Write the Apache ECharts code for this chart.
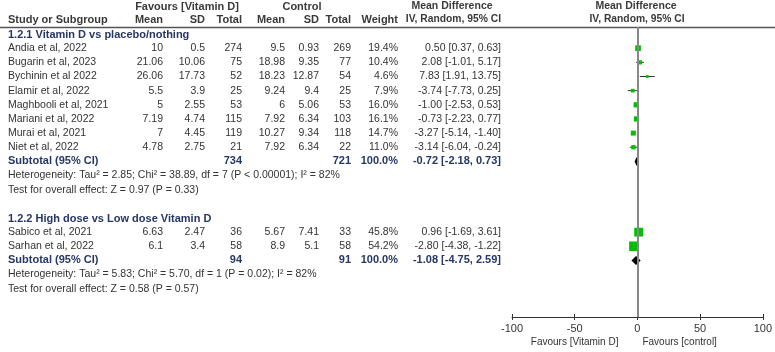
<!DOCTYPE html>
<html>
<head>
<meta charset="utf-8">
<script src="https://cdn.jsdelivr.net/npm/echarts@6/dist/echarts.min.js"></script>
<style>
  html, body { margin: 0; padding: 0; background: #fff; }
  #chart { width: 775px; height: 352px; }
</style>
</head>
<body>
<div id="chart"></div>
<script>
const studies = ['Andia et al, 2022', 'Bugarin et al, 2023', 'Bychinin et al 2022', 'Elamir et al, 2022',
  'Maghbooli et al, 2021', 'Mariani et al, 2022', 'Murai et al, 2021', 'Niet et al, 2022',
  'Sabico et al, 2021', 'Sarhan et al, 2022'];
const studyGroup = [0, 0, 0, 0, 0, 0, 0, 0, 1, 1];
const vdMean = [10, 21.06, 26.06, 5.5, 5, 7.19, 7, 4.78, 6.63, 6.1];
const vdSD = [0.5, 10.06, 17.73, 3.9, 2.55, 4.74, 4.45, 2.75, 2.47, 3.4];
const vdTotal = [274, 75, 52, 25, 53, 115, 119, 21, 36, 58];
const ctMean = [9.5, 18.98, 18.23, 9.24, 6, 7.92, 10.27, 7.92, 5.67, 8.9];
const ctSD = [0.93, 9.35, 12.87, 9.4, 5.06, 6.34, 9.34, 6.34, 7.41, 5.1];
const ctTotal = [269, 77, 54, 25, 53, 103, 118, 22, 33, 58];
const weight = [19.4, 10.4, 4.6, 7.9, 16.0, 16.1, 14.7, 11.0, 45.8, 54.2];
const md = [0.50, 2.08, 7.83, -3.74, -1.00, -0.73, -3.27, -3.14, 0.96, -2.80];
const mdLo = [0.37, -1.01, 1.91, -7.73, -2.53, -2.23, -5.14, -6.04, -1.69, -4.38];
const mdHi = [0.63, 5.17, 13.75, 0.25, 0.53, 0.77, -1.40, -0.24, 3.61, -1.22];

const groupTitles = ['1.2.1 Vitamin D vs placebo/nothing', '1.2.2 High dose vs Low dose Vitamin D'];
const subVdTotal = [734, 94];
const subCtTotal = [721, 91];
const subMd = [-0.72, -1.08];
const subLo = [-2.18, -4.75];
const subHi = [0.73, 2.59];
const hetText = ['Heterogeneity: Tau\u00b2 = 2.85; Chi\u00b2 = 38.89, df = 7 (P < 0.00001); I\u00b2 = 82%',
  'Heterogeneity: Tau\u00b2 = 5.83; Chi\u00b2 = 5.70, df = 1 (P = 0.02); I\u00b2 = 82%'];
const testText = ['Test for overall effect: Z = 0.97 (P = 0.33)', 'Test for overall effect: Z = 0.58 (P = 0.57)'];

const xTicks = [-100, -50, 0, 50, 100];

// row numbers for every line of the table
let row = -1;
const studyRow = [], titleRow = [], subRow = [], hetRow = [], testRow = [];
groupTitles.forEach((t, g) => {
  titleRow.push(row++);
  studies.forEach((s, i) => { if (studyGroup[i] === g) studyRow[i] = row++; });
  subRow.push(row++);
  hetRow.push(row++);
  testRow.push(row++);
  row++;
});
const lastRow = 19;

const FONT = 'Liberation Sans, Arial, sans-serif';
const TXT = '#333';
const HEAD = '#3a3a3a';
const NAVY = '#263766';
const cols = { name: 8, vdMean: 163, vdSD: 205, vdTotal: 242, ctMean: 285, ctSD: 319, ctTotal: 351, weight: 398, ci: 501 };

const ci = (m, l, h) => m.toFixed(2) + ' [' + l.toFixed(2) + ', ' + h.toFixed(2) + ']';

const chart = echarts.init(document.getElementById('chart'));

chart.setOption({
  animation: false,
  grid: { left: 512, width: 251, top: 27, height: 290 },
  xAxis: [{
    type: 'value', min: -100, max: 100, interval: 50, position: 'bottom',
    axisLine: { show: true, onZero: false, lineStyle: { color: '#333', width: 1 } },
    axisTick: { show: true, length: 3, lineStyle: { color: '#333' } },
    axisLabel: { color: TXT, fontFamily: FONT, fontSize: 11, margin: 6,
      formatter: v => xTicks.includes(v) ? String(v) : '' },
    splitLine: { show: false }
  }, {
    type: 'value', min: -100, max: 100, interval: 50, position: 'bottom',
    axisLine: { show: false, onZero: false },
    axisTick: { show: true, inside: true, length: 3, lineStyle: { color: '#333' } },
    axisLabel: { show: false },
    splitLine: { show: false }
  }],
  yAxis: { type: 'value', inverse: true, min: -1.5, max: lastRow, show: false },
  series: [{
    type: 'custom',
    xAxisIndex: 0,
    data: md.map((m, i) => [m, studyRow[i], mdLo[i], mdHi[i], weight[i]]),
    renderItem: (params, api) => {
      const c = api.coord([api.value(0), api.value(1)]);
      const l = api.coord([api.value(2), api.value(1)])[0];
      const h = api.coord([api.value(3), api.value(1)])[0];
      const s = Math.max(2, 1.3 * Math.sqrt(api.value(4)));
      return {
        type: 'group',
        children: [
          { type: 'line', shape: { x1: l, y1: c[1], x2: h, y2: c[1] }, style: { stroke: '#333', lineWidth: 1 } },
          { type: 'rect', shape: { x: c[0] - s / 2, y: c[1] - s / 2, width: s, height: s }, style: { fill: '#00c000' } }
        ]
      };
    },
    markLine: {
      silent: true, symbol: 'none', label: { show: false },
      lineStyle: { color: '#888', width: 2, type: 'solid' },
      data: [
        { xAxis: 0 },
        { yAxis: lastRow, lineStyle: { color: '#333', width: 1 } }
      ]
    },
    z: 3
  }, {
    type: 'custom',
    xAxisIndex: 0,
    data: subMd.map((m, g) => [m, subRow[g], subLo[g], subHi[g]]),
    renderItem: (params, api) => {
      const c = api.coord([api.value(0), api.value(1)]);
      const l = api.coord([api.value(2), api.value(1)])[0];
      const h = api.coord([api.value(3), api.value(1)])[0];
      return {
        type: 'polygon',
        shape: { points: [[l, c[1]], [c[0], c[1] - 4.5], [h, c[1]], [c[0], c[1] + 4.5]] },
        style: { fill: '#000' }
      };
    },
    z: 4
  }]
});

// table text, placed on the same rows as the plot
const yOf = r => chart.convertToPixel({ yAxisIndex: 0 }, r);
const els = [];
const txt = (text, x, y, opt) => {
  opt = opt || {};
  els.push({
    type: 'text', x: x, y: y, silent: true,
    style: {
      text: text, fill: opt.color || TXT, align: opt.align || 'right', verticalAlign: 'middle',
      font: (opt.bold ? 'bold ' : '') + (opt.size || (opt.bold ? 11 : 10.5)) + 'px ' + FONT
    }
  });
};

// header
txt('Favours [Vitamin D]', 187, 6.5, { bold: true, align: 'center', color: HEAD });
txt('Control', 302, 6.5, { bold: true, align: 'center', color: HEAD });
txt('Mean Difference', 452, 6.5, { bold: true, align: 'center', color: HEAD, size: 10.5 });
txt('Mean Difference', 636, 6.5, { bold: true, align: 'center', color: HEAD, size: 10.5 });
txt('Study or Subgroup', cols.name, 19.5, { bold: true, align: 'left', color: HEAD });
[['Mean', cols.vdMean], ['SD', cols.vdSD], ['Total', cols.vdTotal], ['Mean', cols.ctMean],
 ['SD', cols.ctSD], ['Total', cols.ctTotal], ['Weight', cols.weight]].forEach(h =>
  txt(h[0], h[1], 19.5, { bold: true, color: HEAD }));
txt('IV, Random, 95% CI', cols.ci, 19.5, { bold: true, color: HEAD, size: 10.3 });
txt('IV, Random, 95% CI', 637, 19.5, { bold: true, align: 'center', color: HEAD, size: 10.3 });
els.push({ type: 'line', silent: true, shape: { x1: 0, y1: 27.5, x2: 775, y2: 27.5 },
  style: { stroke: '#555', lineWidth: 1.5 } });

studies.forEach((s, i) => {
  const y = yOf(studyRow[i]);
  txt(s, cols.name, y, { align: 'left' });
  txt(String(vdMean[i]), cols.vdMean, y);
  txt(String(vdSD[i]), cols.vdSD, y);
  txt(String(vdTotal[i]), cols.vdTotal, y);
  txt(String(ctMean[i]), cols.ctMean, y);
  txt(String(ctSD[i]), cols.ctSD, y);
  txt(String(ctTotal[i]), cols.ctTotal, y);
  txt(weight[i].toFixed(1) + '%', cols.weight, y);
  txt(ci(md[i], mdLo[i], mdHi[i]), cols.ci, y);
});

groupTitles.forEach((t, g) => {
  txt(t, cols.name, yOf(titleRow[g]) + 1, { bold: true, align: 'left', color: NAVY });
  const y = yOf(subRow[g]);
  txt('Subtotal (95% CI)', cols.name, y, { bold: true, align: 'left', color: NAVY });
  txt(String(subVdTotal[g]), cols.vdTotal, y, { bold: true, color: NAVY });
  txt(String(subCtTotal[g]), cols.ctTotal, y, { bold: true, color: NAVY });
  txt('100.0%', cols.weight, y, { bold: true, color: NAVY });
  txt(ci(subMd[g], subLo[g], subHi[g]), cols.ci, y, { bold: true, color: NAVY });
  txt(hetText[g], cols.name, yOf(hetRow[g]), { align: 'left' });
  txt(testText[g], cols.name, yOf(testRow[g]), { align: 'left' });
});

// favours labels under the axis
const x0 = chart.convertToPixel({ xAxisIndex: 0 }, 0);
txt('Favours [Vitamin D]', x0 - 19, 342, { size: 10 });
txt('Favours [control]', x0 + 5, 342, { align: 'left', size: 10 });

chart.setOption({ graphic: els });
</script>
</body>
</html>
